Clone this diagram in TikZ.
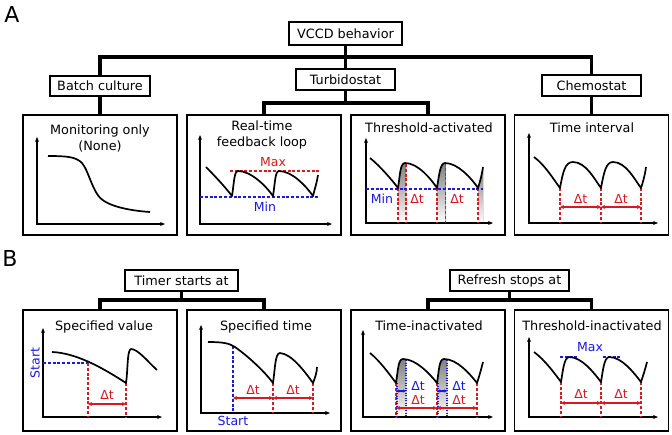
\documentclass[tikz,border=0pt]{standalone}
\usepackage{fontspec}
\setmainfont{DejaVu Sans}
\usetikzlibrary{arrows.meta}
\definecolor{rd}{RGB}{215,25,35}
\definecolor{bl}{RGB}{25,25,225}
\definecolor{shade}{RGB}{128,128,128}
\begin{document}
\begin{tikzpicture}[x=1pt,y=-1pt,
 box/.style={draw,line width=1.7pt,inner sep=0pt,minimum height=21pt,font=\fontsize{12.8}{14}\selectfont},
 panel/.style={draw,line width=1.7pt,inner sep=0pt,minimum width=154pt},
 bar/.style={line width=3.2pt,line join=miter},
 ttl/.style={inner sep=0pt,font=\fontsize{12.8}{16.5}\selectfont,align=center},
 crv/.style={line width=1.7pt,line join=round},
 ax/.style={line width=1.2pt,{Stealth[length=5pt,width=4pt]}-{Stealth[length=5pt,width=4pt]}},
 rdash/.style={draw=rd,line width=1.1pt,dash pattern=on 3pt off 1.8pt},
 bdash/.style={draw=bl,line width=1.1pt,dash pattern=on 3pt off 1.8pt},
 bdot/.style={draw=bl,line width=1.1pt,dash pattern=on 1.3pt off 1.2pt},
 rarr/.style={draw=rd,line width=1.1pt,{Stealth[length=4pt,width=4pt]}-{Stealth[length=4pt,width=4pt]}},
 barr/.style={draw=bl,line width=1.1pt,{Stealth[length=3pt,width=3pt]}-{Stealth[length=3pt,width=3pt]}},
 lbl/.style={inner sep=0pt,font=\fontsize{12.5}{14}\selectfont},
]
\fill[white] (0,0) rectangle (672,434);
\useasboundingbox (0,0) rectangle (672,434);

% panel letters
\node[font=\fontsize{22}{22}\selectfont,inner sep=0pt] (lA) at (12,14) {A};
\node[font=\fontsize{22}{22}\selectfont,inner sep=0pt] (lB) at (10,258) {B};

% tree boxes
\node[box,minimum width=113pt,minimum height=23pt] (vccd) at (345.5,33.5) {VCCD behavior};
\node[box,minimum width=100pt,minimum height=20pt] (batch) at (100,86) {Batch culture};
\node[box,minimum width=99pt] (turbi) at (345.5,79.5) {Turbidostat};
\node[box,minimum width=99pt] (chemo) at (591.5,85.5) {Chemostat};
\node[box,minimum width=113pt] (timer) at (181.5,280.5) {Timer starts at};
\node[box,minimum width=119pt] (refresh) at (509.5,280.5) {Refresh stops at};

% panels
\node[panel,minimum height=120pt] (pA1) at (100,175) {};
\node[panel,minimum height=120pt] (pA2) at (264,175) {};
\node[panel,minimum height=120pt] (pA3) at (428,175) {};
\node[panel,minimum height=120pt] (pA4) at (591.5,175) {};
\node[panel,minimum height=121pt] (pB1) at (100,370.5) {};
\node[panel,minimum height=121pt] (pB2) at (264,370.5) {};
\node[panel,minimum height=121pt] (pB3) at (428,370.5) {};
\node[panel,minimum height=121pt] (pB4) at (591.5,370.5) {};

% connectors
\coordinate (barA) at (0,57);
\coordinate (barT) at (0,103);
\coordinate (barB) at (0,300);
\draw[bar] (batch.north) -- (batch.north |- barA) -- (chemo.north |- barA) -- (chemo.north);
\draw[bar] (vccd.south) -- (turbi.north);
\draw[bar] (batch.south) -- (pA1.north);
\draw[bar] (chemo.south) -- (pA4.north);
\draw[bar] (pA2.north) -- (pA2.north |- barT) -- (pA3.north |- barT) -- (pA3.north);
\draw[bar] (turbi.south) -- (turbi.south |- barT);
\draw[bar] (pB1.north) -- (pB1.north |- barB) -- (pB2.north |- barB) -- (pB2.north);
\draw[bar] (timer.south) -- (timer.south |- barB);
\draw[bar] (pB3.north) -- (pB3.north |- barB) -- (pB4.north |- barB) -- (pB4.north);
\draw[bar] (refresh.south) -- (refresh.south |- barB);

% titles
\node[ttl] (tA1) at (100,138.5) {Monitoring only\\(None)};
\node[ttl] (tA2) at (262,135) {Real-time\\feedback loop};
\node[ttl] (tA3) at (429,128) {Threshold-activated};
\node[ttl] (tA4) at (592,128) {Time interval};
\node[ttl] (tB1) at (104,327) {Specified value};
\node[ttl] (tB2) at (266,327) {Specified time};
\node[ttl] (tB3) at (429,326) {Time-inactivated};
\node[ttl] (tB4) at (592,326) {Threshold-inactivated};

% ---------- A1
\draw[ax] (37,137) -- (37,224) -- (165,224);
\draw[crv] (48,156) .. controls (68,156) and (76,157) .. (82,163) .. controls (89,171) and (93,195) .. (104,201) .. controls (115,208) and (135,211) .. (150,212);

% ---------- A2
\draw[ax] (200,135) -- (200,224) -- (332,224);
\draw[rdash] (230,171) -- (319,171);
\draw[bdash] (200,197) -- (319,197);
\draw[crv] (206,167) .. controls (214,175) and (226,188) .. (232,196)
 .. controls (234,184) and (234,171) .. (238,171)
 .. controls (251,171) and (266,186) .. (273,196)
 .. controls (275,184) and (275,171) .. (279,171)
 .. controls (292,171) and (306,186) .. (313,196)
 .. controls (315,188) and (317,182) .. (318,175);
\node[lbl,text=rd] (maxA2) at (273,162) {Max};
\node[lbl,text=bl] (minA2) at (265,207) {Min};

% ---------- A3
\fill[shade] (398,223) -- (398,188) .. controls (400,176) and (400,163) .. (405,163) -- (406,163.2) -- (406,223) -- cycle;
\fill[shade] (437,223) -- (437,188) .. controls (439,176) and (440,163) .. (445,163) -- (445.5,163.1) -- (445.5,223) -- cycle;
\fill[shade] (478,223) -- (478,188) .. controls (480,182) and (482,174) .. (483,167) -- (483,223) -- cycle;
\draw[ax] (366,138) -- (366,223) -- (493,223);
\draw[rdash] (398,188) -- (398,223);
\draw[rdash] (406,164) -- (406,223);
\draw[rdash] (437,188) -- (437,223);
\draw[rdash] (445.5,163) -- (445.5,223);
\draw[rdash] (478,188) -- (478,223);
\draw[bdash] (366,189) -- (483,189);
\draw[crv] (370,158) .. controls (380,166) and (392,180) .. (398,188)
 .. controls (400,176) and (400,163) .. (405,163)
 .. controls (418,163) and (431,179) .. (437,188)
 .. controls (439,176) and (440,163) .. (445,163)
 .. controls (458,163) and (472,179) .. (478,188)
 .. controls (480,182) and (482,174) .. (483,167);
\node[lbl,text=bl] (minA3) at (382,199) {Min};
\node[lbl,text=rd] (dtA3a) at (417,199) {Δt};
\node[lbl,text=rd] (dtA3b) at (457,199) {Δt};

% ---------- A4
\draw[ax] (529,133) -- (529,223) -- (658,223);
\draw[rdash] (560,188) -- (560,223);
\draw[rdash] (601,188) -- (601,223);
\draw[rdash] (641,188) -- (641,223);
\draw[crv] (534,157) .. controls (545,165) and (554,180) .. (560,188)
 .. controls (563,172) and (565,162) .. (573,162)
 .. controls (586,162) and (595,180) .. (601,188)
 .. controls (604,172) and (606,162) .. (613,162)
 .. controls (626,162) and (635,180) .. (641,188)
 .. controls (643,182) and (645,175) .. (646,167);
\draw[rarr] (560,207) -- (601,207);
\draw[rarr] (601,207) -- (641,207);
\node[lbl,text=rd] (dtA4a) at (580.5,199) {Δt};
\node[lbl,text=rd] (dtA4b) at (621,199) {Δt};

% ---------- B1
\draw[ax] (43,328) -- (43,417) -- (162,417);
\draw[bdash] (43,363) -- (88,363);
\draw[rdash] (88,363) -- (88,417);
\draw[rdash] (126,383) -- (126,417);
\draw[crv] (52,352) .. controls (75,353) and (100,366) .. (126,383)
 .. controls (128,370) and (127,350) .. (131,349)
 .. controls (138,349) and (148,362) .. (157,370);
\draw[rarr] (88,404) -- (126,404);
\node[lbl,text=rd] (dtB1) at (107,395) {Δt};
\node[lbl,text=bl,rotate=90] (startB1) at (35,363) {Start};

% ---------- B2
\draw[ax] (201,325) -- (201,413) -- (330,413);
\draw[bdash] (233,346) -- (233,413);
\draw[rdash] (273,383) -- (273,413);
\draw[rdash] (313,383) -- (313,413);
\draw[crv] (208,342) .. controls (222,342) and (229,343) .. (235,347)
 .. controls (249,357) and (265,372) .. (273,383)
 .. controls (275,370) and (275,353) .. (280,353)
 .. controls (292,354) and (305,372) .. (313,383)
 .. controls (315,378) and (317,372) .. (317,367);
\draw[rarr] (233,398) -- (273,398);
\draw[rarr] (273,398) -- (313,398);
\node[lbl,text=rd] (dtB2a) at (253,390) {Δt};
\node[lbl,text=rd] (dtB2b) at (293,390) {Δt};
\node[lbl,text=bl] (startB2) at (233,421) {Start};

% ---------- B3
\fill[shade] (396,417) -- (396,383) .. controls (398,371) and (398,359) .. (403,359) -- (406,359.3) -- (406,417) -- cycle;
\fill[shade] (437,417) -- (437,383) .. controls (439,371) and (439,359) .. (444,359) -- (447,359.3) -- (447,417) -- cycle;
\draw[ax] (363,330) -- (363,417) -- (493,417);
\draw[rdash] (396,383) -- (396,417);
\draw[bdot] (397,383) -- (397,417);
\draw[bdot] (406,360) -- (406,417);
\draw[rdash] (437,383) -- (437,417);
\draw[bdot] (438,383) -- (438,417);
\draw[bdot] (447,360) -- (447,417);
\draw[rdash] (477,383) -- (477,417);
\draw[crv] (370,353) .. controls (380,361) and (390,375) .. (396,383)
 .. controls (398,371) and (398,359) .. (403,359)
 .. controls (416,359) and (430,374) .. (437,383)
 .. controls (439,371) and (439,359) .. (444,359)
 .. controls (457,359) and (470,374) .. (477,383)
 .. controls (479,377) and (481,370) .. (483,362);
\draw[barr] (396,391) -- (406,391);
\draw[barr] (437,391) -- (447,391);
\draw[rarr] (396,408) -- (437,408);
\draw[rarr] (437,408) -- (477,408);
\node[lbl,text=bl] (dtB3a) at (418,386) {Δt};
\node[lbl,text=bl] (dtB3b) at (459,386) {Δt};
\node[lbl,text=rd] (dtB3c) at (418,400) {Δt};
\node[lbl,text=rd] (dtB3d) at (459,400) {Δt};

% ---------- B4
\draw[ax] (529,337) -- (529,417) -- (658,417);
\draw[bdash] (560,357) -- (578,357);
\draw[bdash] (603,357) -- (621,357);
\draw[rdash] (561,382) -- (561,417);
\draw[rdash] (601,382) -- (601,417);
\draw[rdash] (641,382) -- (641,417);
\draw[crv] (534,352) .. controls (545,360) and (555,374) .. (561,382)
 .. controls (563,370) and (564,358) .. (569,357)
 .. controls (582,357) and (594,373) .. (601,382)
 .. controls (603,370) and (604,358) .. (609,357)
 .. controls (622,357) and (634,373) .. (641,382)
 .. controls (643,376) and (645,370) .. (647,362);
\draw[rarr] (561,403) -- (601,403);
\draw[rarr] (601,403) -- (641,403);
\node[lbl,text=bl] (maxB4) at (590,347) {Max};
\node[lbl,text=rd] (dtB4a) at (581,394) {Δt};
\node[lbl,text=rd] (dtB4b) at (621,394) {Δt};
\end{tikzpicture}
\end{document}
